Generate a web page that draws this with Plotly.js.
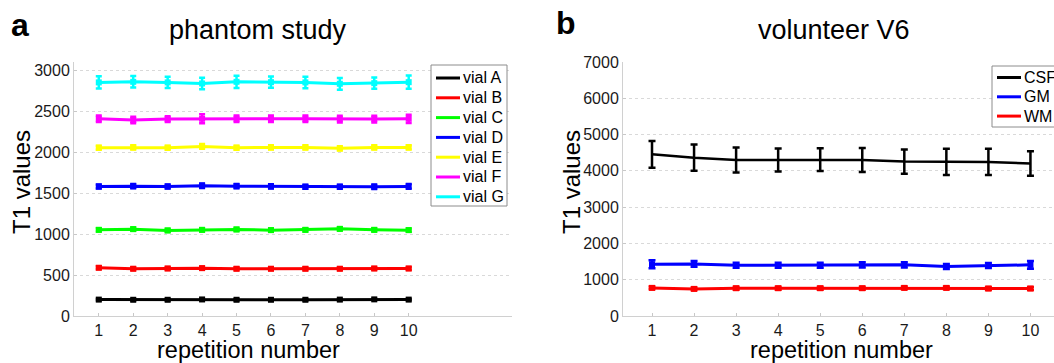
<!DOCTYPE html>
<html>
<head>
<meta charset="utf-8">
<script src="https://cdn.plot.ly/plotly-3.0.1.min.js"></script>
<style>
html,body{margin:0;padding:0;overflow:hidden;background:#fff;}
#chart{width:1054px;height:363px;}
</style>
</head>
<body>
<div id="chart"></div>
<script>
// ---- data ----
const reps = [1, 2, 3, 4, 5, 6, 7, 8, 9, 10];

const vialNames = ["vial A", "vial B", "vial C", "vial D", "vial E", "vial F", "vial G"];
const vialA = [200, 198, 198, 202, 198, 198, 198, 200, 203, 200];
const vialB = [589, 577, 580, 584, 577, 577, 577, 577, 580, 580];
const vialC = [1052, 1060, 1044, 1052, 1056, 1048, 1052, 1064, 1052, 1048];
const vialD = [1580, 1585, 1580, 1590, 1585, 1582, 1577, 1578, 1577, 1582];
const vialE = [2054, 2058, 2054, 2070, 2054, 2058, 2058, 2046, 2058, 2058];
const vialF = [2407, 2391, 2403, 2407, 2407, 2407, 2407, 2403, 2403, 2407];
const vialG = [2851, 2858, 2851, 2838, 2858, 2854, 2851, 2834, 2842, 2854];

const errA = [8, 8, 8, 8, 8, 8, 8, 8, 8, 8];
const errB = [18, 18, 18, 18, 18, 18, 18, 18, 18, 18];
const errC = [20, 20, 20, 20, 20, 20, 20, 20, 20, 20];
const errD = [25, 25, 25, 28, 25, 25, 25, 25, 28, 28];
const errE = [25, 25, 25, 28, 25, 25, 25, 25, 25, 25];
const errF = [40, 40, 35, 55, 40, 40, 40, 40, 40, 50];
const errG = [75, 70, 68, 70, 75, 68, 70, 72, 70, 80];

const tissueNames = ["CSF", "GM", "WM"];
const csf = [4455, 4364, 4301, 4301, 4310, 4301, 4255, 4246, 4246, 4201];
const csfErr = [368, 363, 345, 318, 313, 332, 336, 363, 363, 336];
const gm = [1427, 1436, 1400, 1400, 1400, 1409, 1409, 1363, 1390, 1409];
const gmErr = [110, 80, 70, 70, 70, 70, 70, 70, 70, 110];
const wm = [775, 747, 766, 766, 766, 766, 775, 775, 757, 757];
const wmErr = [40, 40, 40, 40, 40, 40, 40, 40, 40, 40];

const leftTicksY = [0, 500, 1000, 1500, 2000, 2500, 3000];
const rightTicksY = [0, 1000, 2000, 3000, 4000, 5000, 6000, 7000];

// ---- styles ----
const FONT = "Liberation Sans, Arial, Helvetica, sans-serif";
const vialColors = ["#000000", "#ff0000", "#00ff00", "#0000ff", "#ffff00", "#ff00ff", "#00ffff"];
const tissueColors = ["#000000", "#0000ff", "#ff0000"];

const vialData = [vialA, vialB, vialC, vialD, vialE, vialF, vialG];
const vialErr = [errA, errB, errC, errD, errE, errF, errG];
const tissueData = [csf, gm, wm];
const tissueErr = [csfErr, gmErr, wmErr];

const traces = [];
vialData.forEach((ys, i) => {
  traces.push({
    type: "scatter", mode: "lines+markers",
    x: reps, y: ys, name: vialNames[i], showlegend: false,
    xaxis: "x", yaxis: "y",
    line: {color: vialColors[i], width: 3},
    marker: {color: vialColors[i], symbol: "square", size: 6},
    error_y: {type: "data", array: vialErr[i], visible: true, color: vialColors[i], thickness: 2.5, width: 3}
  });
});
tissueData.forEach((ys, i) => {
  const isCsf = i === 0;
  traces.push({
    type: "scatter", mode: isCsf ? "lines" : "lines+markers",
    x: reps, y: ys, name: tissueNames[i], showlegend: false,
    xaxis: "x2", yaxis: "y2",
    line: {color: tissueColors[i], width: isCsf ? 2.5 : 3},
    marker: {color: tissueColors[i], symbol: "square", size: 6},
    error_y: {type: "data", array: tissueErr[i], visible: true, color: tissueColors[i], thickness: 2.5, width: 3.5}
  });
});

const W = 1054, H = 363;
const px = v => v / W;
const py = v => 1 - v / H;

const axisCommon = {
  showline: true, linecolor: "#d0d0d0", linewidth: 1,
  ticks: "inside", ticklen: 3, tickcolor: "#c8c8c8", tickwidth: 1,
  tickfont: {family: FONT, size: 16, color: "#1a1a1a"},
  zeroline: false, fixedrange: true
};

// ---- legend boxes (drawn as shapes + text) ----
const shapes = [];
const annotations = [];
function addLegend(names, colors, box, firstY, step) {
  shapes.push({type: "rect", xref: "paper", yref: "paper",
    x0: px(box.x0), x1: px(box.x1), y0: py(box.y1), y1: py(box.y0),
    line: {color: "#8c8c8c", width: 1}, fillcolor: "#ffffff", layer: "above"});
  names.forEach((nm, i) => {
    const yy = firstY + step * i;
    shapes.push({type: "line", xref: "paper", yref: "paper",
      x0: px(box.x0 + 5), x1: px(box.x0 + 29), y0: py(yy), y1: py(yy),
      line: {color: colors[i], width: 3}, layer: "above"});
    annotations.push({text: nm, xref: "paper", yref: "paper", showarrow: false,
      x: px(box.x0 + 30), y: py(yy), xanchor: "left", yanchor: "middle",
      font: {family: FONT, size: 16, color: "#000"}});
  });
}
addLegend(vialNames, vialColors, {x0: 431, x1: 507, y0: 65, y1: 206}, 78, 19.8);
addLegend(tissueNames, tissueColors, {x0: 992, x1: 1070, y0: 66, y1: 127}, 77.5, 19.3);

const labelFont = s => ({family: FONT, size: s, color: "#000"});
annotations.push(
  {text: "<b>a</b>", x: px(20), y: py(25), xref: "paper", yref: "paper", showarrow: false,
   xanchor: "center", yanchor: "middle", font: labelFont(32)},
  {text: "<b>b</b>", x: px(566), y: py(23), xref: "paper", yref: "paper", showarrow: false,
   xanchor: "center", yanchor: "middle", font: labelFont(32)},
  {text: "phantom study", x: px(258), y: py(30), xref: "paper", yref: "paper", showarrow: false,
   xanchor: "center", yanchor: "middle", font: labelFont(27)},
  {text: "volunteer V6", x: px(834), y: py(30), xref: "paper", yref: "paper", showarrow: false,
   xanchor: "center", yanchor: "middle", font: labelFont(27)},
  {text: "T1 values", x: px(22), y: py(182), xref: "paper", yref: "paper", showarrow: false, textangle: -90,
   xanchor: "center", yanchor: "middle", font: labelFont(24)},
  {text: "T1 values", x: px(572), y: py(182), xref: "paper", yref: "paper", showarrow: false, textangle: -90,
   xanchor: "center", yanchor: "middle", font: labelFont(24)},
  {text: "repetition number", x: px(248), y: py(349.5), xref: "paper", yref: "paper", showarrow: false,
   xanchor: "center", yanchor: "middle", borderpad: 0, font: labelFont(23.5)},
  {text: "repetition number", x: px(841), y: py(349.5), xref: "paper", yref: "paper", showarrow: false,
   xanchor: "center", yanchor: "middle", borderpad: 0, font: labelFont(23.5)}
);

const layout = {
  width: W, height: H,
  margin: {l: 0, r: 0, t: 0, b: 0, autoexpand: false},
  paper_bgcolor: "#ffffff", plot_bgcolor: "#ffffff",
  font: {family: FONT, color: "#000"},
  showlegend: false,
  xaxis: Object.assign({}, axisCommon, {
    domain: [px(74), px(512)], range: [0.28, 13.0],
    tickvals: reps, showgrid: false, anchor: "y", ticklabelstandoff: 0
  }),
  yaxis: Object.assign({}, axisCommon, {
    domain: [py(316), py(62)], range: [0, 3100],
    tickvals: leftTicksY, showgrid: true, gridcolor: "#d9d9d9", griddash: "dot", gridwidth: 1, anchor: "x"
  }),
  xaxis2: Object.assign({}, axisCommon, {
    domain: [px(623), 1], range: [0.31, 10.56],
    tickvals: reps, showgrid: false, anchor: "y2", ticklabelstandoff: 0
  }),
  yaxis2: Object.assign({}, axisCommon, {
    domain: [py(316), py(62)], range: [0, 7000],
    tickvals: rightTicksY, showgrid: true, gridcolor: "#d9d9d9", griddash: "dot", gridwidth: 1, anchor: "x2"
  }),
  shapes: shapes,
  annotations: annotations
};

Plotly.newPlot("chart", traces, layout, {staticPlot: true, displayModeBar: false});
</script>
</body>
</html>
